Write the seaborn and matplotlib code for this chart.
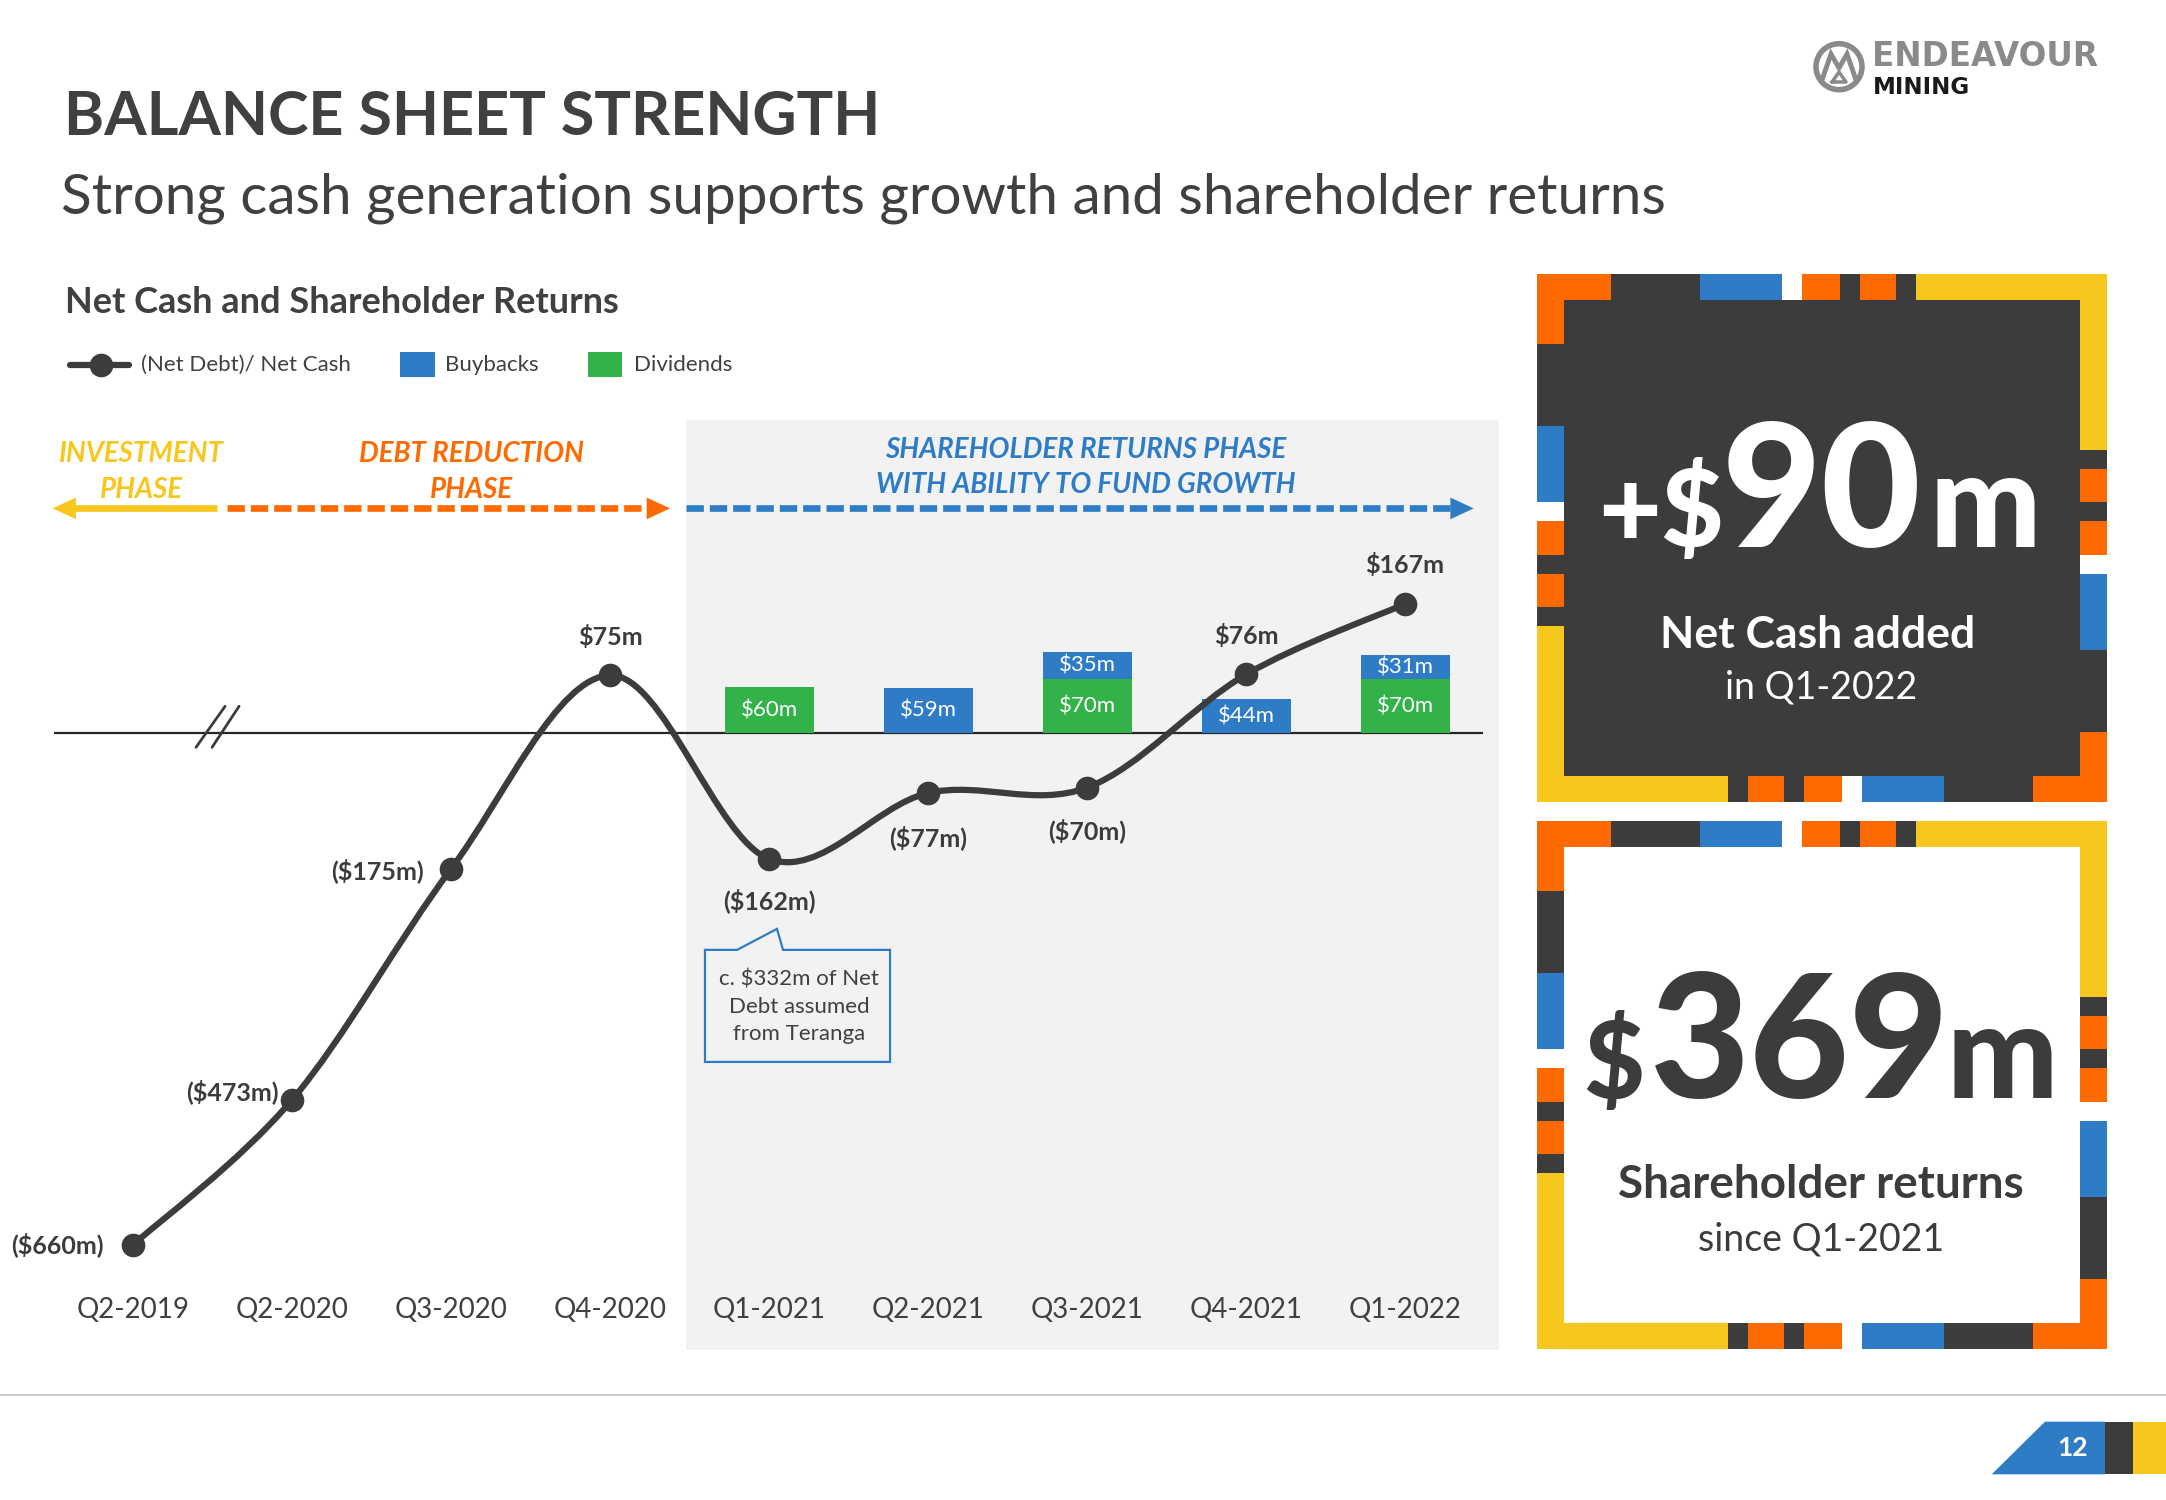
import numpy as np
import pandas as pd
import matplotlib
matplotlib.use('Agg')
import matplotlib.pyplot as plt
from matplotlib.patches import Rectangle, Polygon, PathPatch, Circle
from matplotlib.path import Path
import seaborn as sns

# ---- data ($m) ----
quarters = ['Q2-2019', 'Q2-2020', 'Q3-2020', 'Q4-2020', 'Q1-2021',
            'Q2-2021', 'Q3-2021', 'Q4-2021', 'Q1-2022']
net_cash = [-660, -473, -175, 75, -162, -77, -70, 76, 167]
dividends = [0, 0, 0, 0, 60, 0, 70, 0, 70]
buybacks = [0, 0, 0, 0, 0, 59, 35, 44, 31]

phase_names = [['INVESTMENT', 'PHASE'],
               ['DEBT REDUCTION', 'PHASE'],
               ['SHAREHOLDER RETURNS PHASE', 'WITH ABILITY TO FUND GROWTH']]
callout_text = 'c. $332m of Net\nDebt assumed\nfrom Teranga'
legend_names = ['(Net Debt)/ Net Cash', 'Buybacks', 'Dividends']

# ---- colours ----
DARK = '#3C3C3C'
TXT = '#404040'
ORANGE = '#FF6A00'
BLUE = '#2E7CC6'
YELLOW = '#F8C71E'
GREEN = '#33B24A'
GREY_BG = '#F2F2F2'

sns.set_theme(style='white')
plt.rcParams['font.family'] = ['Lato', 'DejaVu Sans']
plt.rcParams['text.parse_math'] = False

df = pd.DataFrame({'quarter': quarters, 'net_cash': net_cash,
                   'dividends': dividends, 'buybacks': buybacks})
df['pos'] = np.arange(len(df))


def money(v):
    return f'${v}m' if v >= 0 else f'(${-v}m)'


def smooth_path(xs, ys):
    """ Catmull-Rom style bezier through the points (like an Office smoothed line). """
    pts = np.column_stack([xs, ys]).astype(float)
    n = len(pts)
    verts, codes = [pts[0]], [Path.MOVETO]
    for i in range(n - 1):
        p0, p1 = pts[max(i - 1, 0)], pts[i]
        p2, p3 = pts[i + 1], pts[min(i + 2, n - 1)]
        verts += [p1 + (p2 - p0) / 6., p2 - (p3 - p1) / 6., p2]
        codes += [Path.CURVE4] * 3
    return Path(verts, codes)


fig = plt.figure(figsize=(21.66, 15), dpi=100)

# background layer in pixel coordinates for the slide furniture
deco = fig.add_axes([0, 0, 1, 1], zorder=0)
deco.set_xlim(0, 2166)
deco.set_ylim(1500, 0)
deco.axis('off')

# ---- main chart ----
ax = fig.add_axes([0.02516, 0.10027, 0.6669, 0.6197], zorder=1)
ax.patch.set_alpha(0)
XMIN, XMAX = -0.494, 8.591
YMIN, YMAX = -795.2, 404.3

ax.axvspan(3.478, XMAX, color=GREY_BG, lw=0, zorder=0)
ax.hlines(0, XMIN, 8.49, color='#262626', lw=1.6, zorder=2)
# axis break marks
ax.plot([0.396, 0.579], [-18, 35], color=DARK, lw=2, zorder=2)
ax.plot([0.497, 0.667], [-18, 35], color=DARK, lw=2, zorder=2)

sns.barplot(data=df, x='quarter', y='dividends', color=GREEN, saturation=1,
            width=0.56, ax=ax, zorder=3, linewidth=0)
ax.bar(df['pos'], df['buybacks'], bottom=df['dividends'], width=0.56,
       color=BLUE, lw=0, zorder=3)

for p, d, b in zip(df['pos'], df['dividends'], df['buybacks']):
    if d > 0:
        ax.text(p, d / 2, money(d), ha='center', va='center', color='white',
                fontsize=16, zorder=4)
    if b > 0:
        ax.text(p, d + b / 2, money(b), ha='center', va='center', color='white',
                fontsize=16, zorder=4)

ax.add_patch(PathPatch(smooth_path(df['pos'], df['net_cash']), fill=False,
                       ec=DARK, lw=4.5, capstyle='round', zorder=5))
sns.scatterplot(data=df, x='pos', y='net_cash', s=290, color=DARK,
                linewidth=0, zorder=6, ax=ax, legend=False)

label_offsets = [(-21, 0, 'right', 'center'), (-10, 6, 'right', 'center'),
                 (-20, -1, 'right', 'center'), (0, 22, 'center', 'baseline'),
                 (0, -30, 'center', 'center'), (0, -32, 'center', 'center'),
                 (0, -31, 'center', 'center'), (0, 22, 'center', 'baseline'),
                 (0, 22, 'center', 'baseline')]
for (p, v), (dx, dy, ha, va) in zip(zip(df['pos'], df['net_cash']), label_offsets):
    ax.annotate(money(v), (p, v), xytext=(dx, dy), textcoords='offset points',
                ha=ha, va=va, fontsize=18, fontweight='bold', color=DARK,
                zorder=7)

# quarter labels sit inside the grey panel
for p, q in zip(df['pos'], quarters):
    ax.text(p, -754, q, ha='center', va='baseline', fontsize=20, color=TXT)

# phase arrows
ARROW_Y = 290.3
ax.plot([-0.44, 0.528], [ARROW_Y] * 2, color=YELLOW, lw=4.8,
        solid_capstyle='butt', zorder=2)
ax.plot([0.589, 3.27], [ARROW_Y] * 2, color=ORANGE, lw=4.8,
        dashes=(2.6, 0.9), dash_capstyle='butt', zorder=2)
ax.plot([3.478, 8.32], [ARROW_Y] * 2, color=BLUE, lw=4.8,
        dashes=(2.6, 0.9), dash_capstyle='butt', zorder=2)
for tip, back, c in [(-0.506, -0.3, YELLOW), (3.377, 3.15, ORANGE), (8.432, 8.2, BLUE)]:
    ax.annotate('', xy=(tip, ARROW_Y), xytext=(back, ARROW_Y),
                arrowprops=dict(arrowstyle='-|>,head_length=1.4,head_width=0.65',
                                color=c, lw=0, shrinkA=0, shrinkB=0),
                annotation_clip=False, zorder=3)

phase_pos = [(0.054, 350.5, 303.6, YELLOW), (2.129, 350.5, 303.6, ORANGE),
             (5.994, 354.8, 309.7, BLUE)]
for (x, y1, y2, c), lines in zip(phase_pos, phase_names):
    for y, line in zip((y1, y2), lines):
        ax.text(x, y, line, ha='center', va='baseline', fontsize=20,
                fontweight='bold', fontstyle='italic', color=c, zorder=3)

# callout box
callout = Polygon([(3.597, -279.4), (3.799, -279.4), (4.05, -252.3),
                   (4.088, -279.4), (4.761, -279.4), (4.761, -424),
                   (3.597, -424)], closed=True, fc='none', ec=BLUE, lw=1.6,
                  joinstyle='miter', zorder=3)
ax.add_patch(callout)
ax.text(4.19, -353, callout_text, ha='center', va='center', fontsize=16,
        color=TXT, linespacing=1.45, zorder=4)

ax.set_xlim(XMIN, XMAX)
ax.set_ylim(YMIN, YMAX)
ax.set_xticks([])
ax.set_yticks([])
ax.set_xlabel('')
ax.set_ylabel('')
sns.despine(ax=ax, left=True, bottom=True)

# ---- titles / legend ----
deco.text(64, 135, 'BALANCE SHEET STRENGTH', fontsize=44, fontweight='bold',
          color=TXT, va='baseline')
deco.text(61, 213, 'Strong cash generation supports growth and shareholder returns',
          fontsize=40.8, color=TXT, va='baseline')
deco.text(65, 313, 'Net Cash and Shareholder Returns', fontsize=26,
          fontweight='bold', color=TXT, va='baseline')

deco.plot([70, 129], [365, 365], color=DARK, lw=4.5)
deco.plot([100.5], [365], 'o', color=DARK, ms=17, mew=0)
deco.add_patch(Rectangle((400, 352), 35, 25, color=BLUE, lw=0))
deco.add_patch(Rectangle((588, 352), 34, 25, color=GREEN, lw=0))
for x, name in zip([140.7, 445, 633.5], legend_names):
    deco.text(x, 365, name, fontsize=16, color=TXT, va='center')

# ---- right-hand panels ----
TOP_SEGMENTS = [(0, 74, ORANGE), (74, 163, DARK), (163, 245, BLUE),
                (245, 265, 'white'), (265, 303, ORANGE), (303, 323, DARK),
                (323, 359, ORANGE), (359, 379, DARK), (379, 570, YELLOW)]
LEFT_SEGMENTS = [(0, 70, ORANGE), (70, 152, DARK), (152, 228, BLUE),
                 (228, 247, 'white'), (247, 281, ORANGE), (281, 300, DARK),
                 (300, 333, ORANGE), (333, 352, DARK), (352, 528, YELLOW)]


def draw_frame(x0, y0, inner, w=570, h=528, t=26):
    deco.add_patch(Rectangle((x0, y0), w, h, color=inner, lw=0))
    for a, b, c in TOP_SEGMENTS:
        deco.add_patch(Rectangle((x0 + a, y0), b - a, t, color=c, lw=0))
        deco.add_patch(Rectangle((x0 + w - b, y0 + h - t), b - a, t, color=c, lw=0))
    for a, b, c in LEFT_SEGMENTS:
        deco.add_patch(Rectangle((x0, y0 + a), t + 1, b - a, color=c, lw=0))
        deco.add_patch(Rectangle((x0 + w - t - 1, y0 + h - b), t + 1, b - a,
                                 color=c, lw=0))


draw_frame(1537, 274, DARK)
draw_frame(1537, 821, 'white')

deco.text(1661, 547, '+$', fontsize=78, fontweight='black', color='white',
          ha='center', va='baseline')
deco.text(1822, 547, '90', fontsize=124, fontweight='black', color='white',
          ha='center', va='baseline')
deco.text(1985, 547, 'm', fontsize=95, fontweight='black', color='white',
          ha='center', va='baseline')
deco.text(1818, 648, 'Net Cash added', fontsize=32, fontweight='bold',
          color='white', ha='center', va='baseline')
deco.text(1821, 698, 'in Q1-2022', fontsize=27, color='white',
          ha='center', va='baseline')

deco.text(1614, 1098, '$', fontsize=76, fontweight='black', color=DARK,
          ha='center', va='baseline')
deco.text(1800, 1098, '369', fontsize=124, fontweight='black', color=DARK,
          ha='center', va='baseline')
deco.text(2002, 1098, 'm', fontsize=95, fontweight='black', color=DARK,
          ha='center', va='baseline')
deco.text(1821, 1198, 'Shareholder returns', fontsize=33, fontweight='bold',
          color=DARK, ha='center', va='baseline')
deco.text(1821, 1250, 'since Q1-2021', fontsize=27, color=DARK,
          ha='center', va='baseline')

# ---- logo ----
LOGO_GREY = '#8A8A8A'
deco.add_patch(Circle((1839, 66.7), 23, fill=False, ec=LOGO_GREY, lw=4))
deco.plot([1822, 1831, 1839, 1847, 1856], [80, 54, 68, 54, 80],
          color=LOGO_GREY, lw=3.5, solid_joinstyle='miter')
deco.plot([1832, 1839, 1846, 1832], [82, 72, 82, 82], color=LOGO_GREY, lw=2.5)
deco.text(1872, 66, 'ENDEAVOUR', fontsize=23.5, fontweight='bold',
          color=LOGO_GREY, va='baseline', family='DejaVu Sans')
deco.text(1873, 94, 'MINING', fontsize=16.5, fontweight='bold',
          color='#1A1A1A', va='baseline', family='DejaVu Sans')

# ---- footer ----
deco.plot([0, 2166], [1395, 1395], color='#BFBFBF', lw=1.2)
deco.add_patch(Polygon([(1991.7, 1474.3), (2045, 1421.7), (2105, 1421.7),
                        (2105, 1474.3)], closed=True, color=BLUE, lw=0))
deco.add_patch(Rectangle((2105, 1421.7), 27.7, 52.6, color=DARK, lw=0))
deco.add_patch(Rectangle((2132.7, 1421.7), 33.3, 52.6, color=YELLOW, lw=0))
deco.text(2073, 1448, '12', fontsize=19, fontweight='bold', color='white',
          ha='center', va='center')

fig.savefig('out.png', dpi=100, facecolor='white')
